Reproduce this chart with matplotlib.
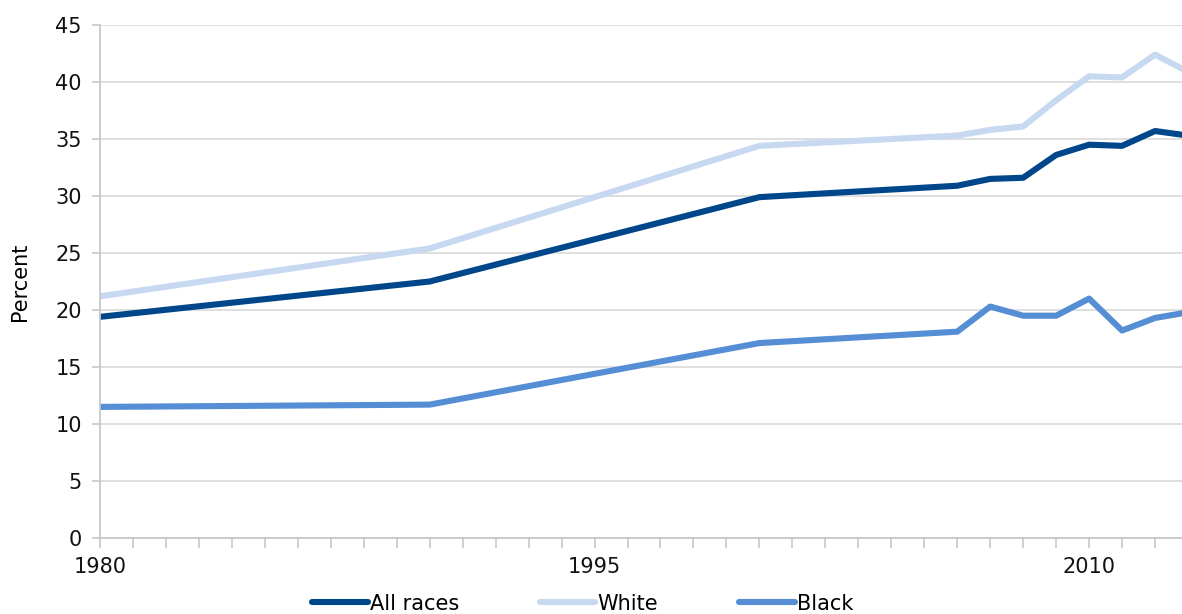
import matplotlib
matplotlib.use("Agg")
import matplotlib.pyplot as plt
from matplotlib.ticker import MultipleLocator, FixedLocator

YEARS = [1980, 1990, 2000, 2006, 2007, 2008, 2009, 2010, 2011, 2012, 2013]
ALL_RACES = [19.4, 22.5, 29.9, 30.9, 31.5, 31.6, 33.6, 34.5, 34.4, 35.7, 35.3]
WHITE = [21.2, 25.4, 34.4, 35.3, 35.8, 36.1, 38.4, 40.5, 40.4, 42.4, 40.9]
BLACK = [11.5, 11.7, 17.1, 18.1, 20.3, 19.5, 19.5, 21.0, 18.2, 19.3, 19.8]
X_LABELS = [1980, 1995, 2010]

SERIES = [
    ("All races", ALL_RACES, "#00468B"),
    ("White", WHITE, "#C6D9F1"),
    ("Black", BLACK, "#558ED5"),
]

plt.rcParams["font.family"] = ["DejaVu Sans"]

W, H = 1182, 614
fig = plt.figure(figsize=(W / 100, H / 100), dpi=100)
ax = fig.add_axes([100 / W, 76 / H, (W - 100) / W, 513 / H])

for name, vals, color in SERIES:
    ax.plot(YEARS, vals, color=color, linewidth=4.4, label=name,
            solid_joinstyle="round", solid_capstyle="round")

ax.set_xlim(1980, 1980 + (W - 100) / 32.97)
ax.set_ylim(0, 45)
ax.yaxis.set_major_locator(MultipleLocator(5))
ax.xaxis.set_major_locator(FixedLocator(X_LABELS))
ax.xaxis.set_minor_locator(MultipleLocator(1))

ax.grid(axis="y", color="#DCDCDC", linewidth=1.3)
ax.set_axisbelow(True)
for side in ("top", "right"):
    ax.spines[side].set_visible(False)
for side in ("left", "bottom"):
    ax.spines[side].set_color("#C8C8C8")
    ax.spines[side].set_linewidth(1.3)

ax.tick_params(axis="y", length=6, width=1.2, color="#C8C8C8",
               labelsize=15, pad=7, labelcolor="#111111")
ax.tick_params(axis="x", which="both", length=7, width=1.2, color="#C8C8C8",
               labelsize=15, pad=7, labelcolor="#111111")
ax.set_ylabel("Percent", fontsize=15, labelpad=18)

fig.legend(loc="center", bbox_to_anchor=(0.493, 0.017), ncol=3, frameon=False,
           fontsize=15, handlelength=2.65, handletextpad=0.1, columnspacing=3.9)

fig.savefig("out.png", dpi=100)
